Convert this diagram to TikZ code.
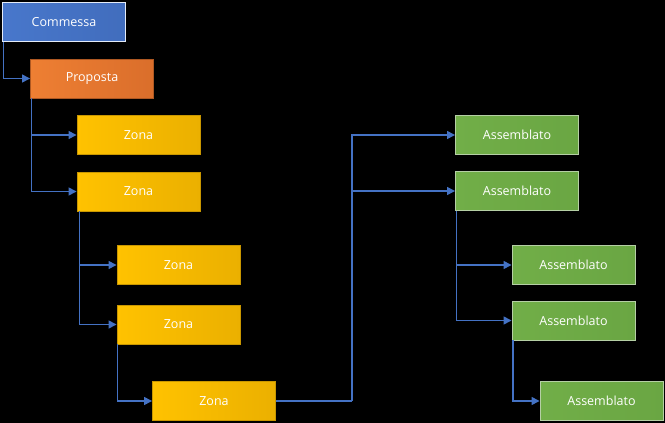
\documentclass[tikz,border=0pt]{standalone}
\usepackage{fontspec}
\setmainfont{Open Sans}
\usetikzlibrary{arrows.meta,calc}
\definecolor{lineblue}{HTML}{4472C4}
\definecolor{blueA}{HTML}{4877CB}
\definecolor{blueB}{HTML}{416DBD}
\definecolor{orA}{HTML}{EE7F33}
\definecolor{orB}{HTML}{DA6E2B}
\definecolor{goA}{HTML}{FFC200}
\definecolor{goB}{HTML}{EBB000}
\definecolor{goL}{HTML}{C99700}
\definecolor{grA}{HTML}{71AE48}
\definecolor{grB}{HTML}{6AA643}
\definecolor{grL}{HTML}{B5CFA5}
\tikzset{
  box/.style={minimum width=123pt,minimum height=39pt,inner sep=0pt,
    font=\fontsize{12.5}{14}\selectfont,text=white,line width=0.9pt,
    shading angle=135},
  bluebox/.style={box,draw=white!85!blueA,left color=blueA,right color=blueB},
  orbox/.style={box,draw=orB!80!black,left color=orA,right color=orB},
  zbox/.style={box,draw=goL,left color=goA,right color=goB},
  abox/.style={box,draw=grL,left color=grA,right color=grB},
  conn/.style={draw=lineblue,line width=1.4pt,-{Triangle[length=8pt,width=8pt]}},
  plain/.style={draw=lineblue,line width=1.4pt}
}
\begin{document}
\begin{tikzpicture}[x=1pt,y=-1pt]
\fill[black] (0,0) rectangle (665,423);
\useasboundingbox (0,0) rectangle (665,423);
\node[bluebox] (c) at (64,22) {Commessa};
\node[orbox] (p) at (92,78.5) {Proposta};
\node[zbox] (z1) at (138.5,135) {Zona};
\node[zbox] (z2) at (138.5,191.5) {Zona};
\node[zbox] (z3) at (178.5,265) {Zona};
\node[zbox] (z4) at (178.5,324.5) {Zona};
\node[zbox] (z5) at (214,401) {Zona};
\node[abox] (a1) at (517,135) {Assemblato};
\node[abox] (a2) at (517,191) {Assemblato};
\node[abox] (a3) at (573.5,265) {Assemblato};
\node[abox] (a4) at (573.5,320.5) {Assemblato};
\node[abox] (a5) at (601.5,401) {Assemblato};
\coordinate (j) at (352,401);
\draw[conn] ($(c.south west)+(1.5,0)$) |- (p.west);
\draw[conn] ($(p.south west)+(1.5,0)$) |- (z1.west);
\draw[conn] ($(p.south west)+(1.5,0)$) |- (z2.west);
\draw[conn] ($(z2.south west)+(3,0)$) |- (z3.west);
\draw[conn] ($(z2.south west)+(3,0)$) |- (z4.west);
\draw[conn] ($(z4.south west)+(1,0)$) |- (z5.west);
\draw[plain] (z5.east) -- (j);
\draw[conn] (j) |- (a1.west);
\draw[conn] (j) |- (a2.west);
\draw[conn] ($(a2.south west)+(1.5,0)$) |- (a3.west);
\draw[conn] ($(a2.south west)+(1.5,0)$) |- (a4.west);
\draw[conn] ($(a4.south west)+(1.5,0)$) |- (a5.west);
\end{tikzpicture}
\end{document}
